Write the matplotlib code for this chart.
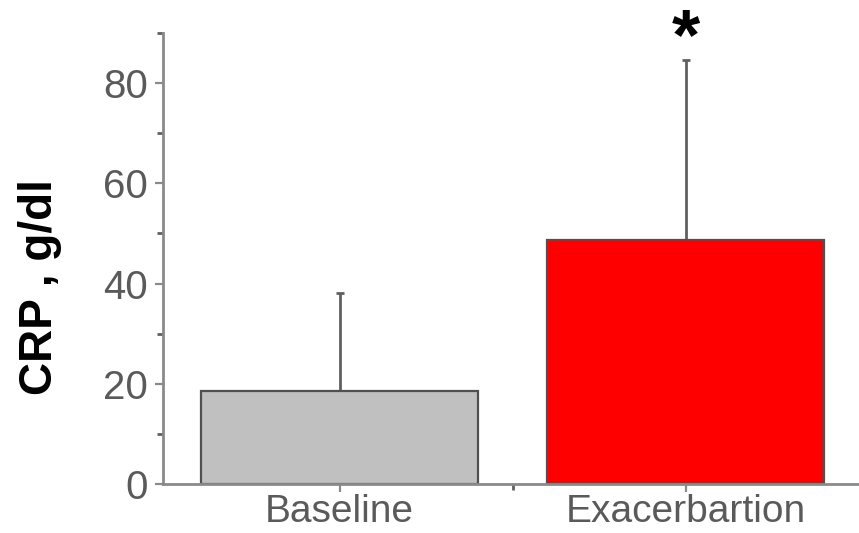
import matplotlib.pyplot as plt
import numpy as np
from matplotlib.ticker import MultipleLocator, FixedLocator

plt.rcParams['font.family'] = ['Liberation Sans', 'DejaVu Sans']

# CRP means and upper SD
groups = ['Baseline', 'Exacerbartion']
crp_mean = [18.6, 48.6]
crp_sd = [19.6, 36.1]
bar_colors = ['#c0c0c0', '#ff0000']

axis_grey = '#8a8a8a'
label_grey = '#5a5a5a'

fig = plt.figure(figsize=(8.59, 5.33), dpi=100, facecolor='#FFFFFF')
ax = fig.add_axes([0.1898, 0.0919, 0.8102, 0.8462])

x = np.arange(1, len(groups) + 1)
ax.bar(x, crp_mean, width=0.8, color=bar_colors, edgecolor='#505050',
       linewidth=1.6, zorder=2)
ax.errorbar(x, crp_mean, yerr=[np.zeros(len(crp_sd)), crp_sd], fmt='none',
            ecolor='#606060', elinewidth=2, capsize=3, capthick=2, zorder=1)

ax.set_xlim(0.49, 2.5)
ax.set_ylim(0, 90)

ax.xaxis.set_major_locator(FixedLocator(x))
ax.xaxis.set_minor_locator(FixedLocator([1.5]))
ax.set_xticklabels(groups)
ax.yaxis.set_major_locator(MultipleLocator(20))
ax.yaxis.set_minor_locator(MultipleLocator(10))

for side in ['top', 'right']:
    ax.spines[side].set_visible(False)
for side in ['left', 'bottom']:
    ax.spines[side].set_color(axis_grey)
    ax.spines[side].set_linewidth(2)

ax.tick_params(axis='both', which='major', direction='out', length=6,
               width=1.6, color=axis_grey, labelcolor=label_grey)
ax.tick_params(axis='y', which='major', pad=5, labelsize=29)
ax.tick_params(axis='x', which='major', pad=1, labelsize=28)
ax.tick_params(axis='both', which='minor', direction='out', length=4,
               width=2, color='#606060')

ax.set_ylabel('CRP , g/dl', fontsize=33, fontweight='bold')
ax.yaxis.set_label_coords(-0.145, 0.437)

# significance marker above the exacerbation bar
ax.text(2, 88.6, '*', ha='center', va='center', fontsize=52,
        fontweight='bold', color='black', clip_on=False)

plt.savefig('out.png', dpi=100)
